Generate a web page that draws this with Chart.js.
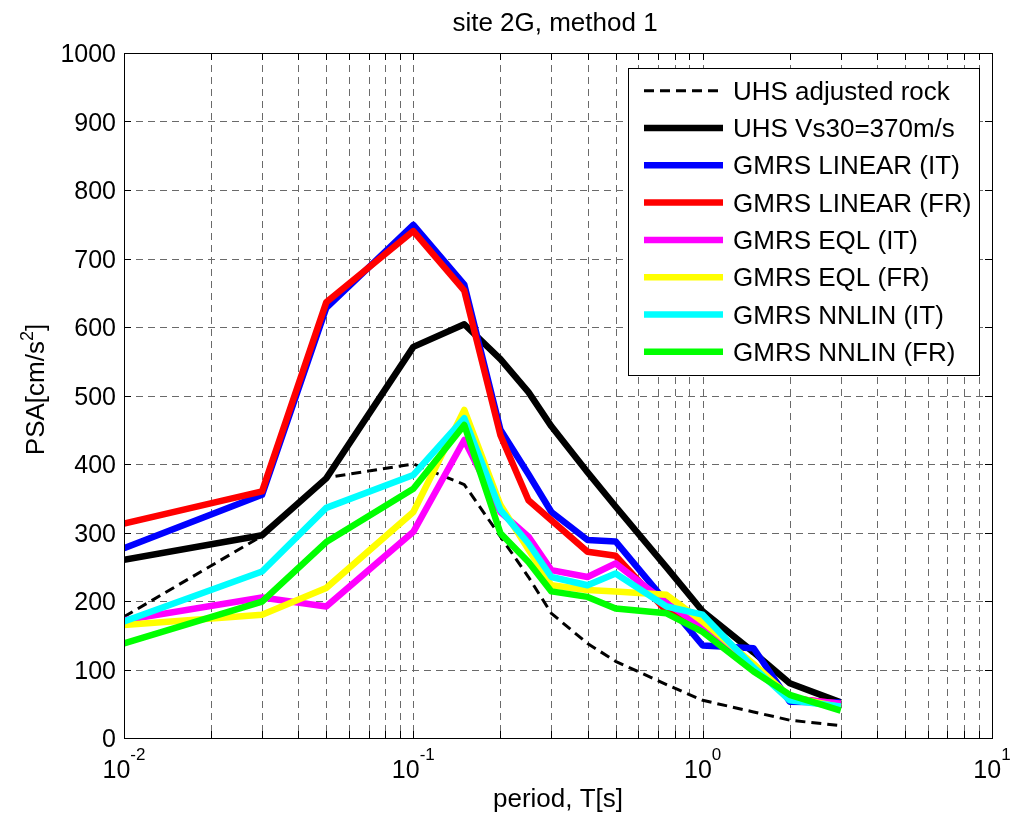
<!DOCTYPE html>
<html>
<head>
<meta charset="utf-8">
<title>site 2G, method 1</title>
<script src="https://cdn.jsdelivr.net/npm/chart.js@4/dist/chart.umd.min.js"></script>
<style>
  html, body { margin: 0; padding: 0; background: #ffffff; }
  canvas { display: block; }
</style>
</head>
<body>
<canvas id="psa" width="1012" height="823"></canvas>
<script>
// Spectral periods T [s]
const periods = [0.01, 0.03, 0.05, 0.1, 0.15, 0.2, 0.25, 0.3, 0.4, 0.5, 0.75, 1.0, 1.5, 2.0, 3.0];

// Pseudo-spectral accelerations [cm/s^2]
const uhsRock   = [177, 295, 380, 400, 370, 294, 235, 182, 138, 112, 78, 55, 38, 26, 18];
const uhsSite   = [260, 296, 379, 571, 604, 553, 505, 455, 388, 338, 249, 185, 125, 80, 52];
const linearIT  = [277, 355, 628, 749, 662, 450, 385, 330, 289, 287, 198, 135, 131, 53, 52];
const linearFR  = [313, 360, 636, 740, 653, 442, 347, 318, 272, 266, 185, 158, 105, 58, 50];
const eqlIT     = [172, 205, 192, 301, 435, 330, 294, 245, 235, 255, 197, 162, 107, 58, 50];
const eqlFR     = [165, 180, 219, 330, 479, 340, 275, 223, 216, 214, 209, 170, 108, 60, 45];
const nnlinIT   = [170, 243, 336, 384, 467, 333, 284, 235, 223, 240, 192, 180, 103, 55, 46];
const nnlinFR   = [138, 199, 286, 364, 457, 299, 257, 214, 206, 189, 182, 155, 97, 63, 40];

const seriesLabels = [
  'UHS adjusted rock',
  'UHS Vs30=370m/s',
  'GMRS LINEAR (IT)',
  'GMRS LINEAR (FR)',
  'GMRS EQL (IT)',
  'GMRS EQL (FR)',
  'GMRS NNLIN (IT)',
  'GMRS NNLIN (FR)'
];
const seriesValues = [uhsRock, uhsSite, linearIT, linearFR, eqlIT, eqlFR, nnlinIT, nnlinFR];
const seriesColors = ['#000000', '#000000', '#0000ff', '#ff0000', '#ff00ff', '#ffff00', '#00ffff', '#00ff00'];

// Axis ticks
const yTicks = [0, 100, 200, 300, 400, 500, 600, 700, 800, 900, 1000];
const xDecades = [-2, -1, 0, 1];

const FONT = "'Liberation Sans', Arial, Helvetica, sans-serif";

const datasets = seriesValues.map((vals, i) => ({
  label: seriesLabels[i],
  data: periods.map((t, k) => ({ x: t, y: vals[k] })),
  borderColor: seriesColors[i],
  backgroundColor: seriesColors[i],
  borderWidth: i === 0 ? 3 : 6.5,
  borderDash: i === 0 ? [10, 6] : [],
  borderJoinStyle: 'round',
  borderCapStyle: 'butt',
  pointRadius: 0,
  pointHoverRadius: 0,
  tension: 0,
  fill: false,
  clip: 0,
  order: seriesValues.length - i   // later series drawn on top
}));

// Log-axis grid positions: 1..9 x 10^e
function logGridValues() {
  const out = [];
  for (let e = xDecades[0]; e < xDecades[xDecades.length - 1]; e++) {
    for (let k = 1; k <= 9; k++) out.push(k * Math.pow(10, e));
  }
  out.push(Math.pow(10, xDecades[xDecades.length - 1]));
  return out;
}

const framePlugin = {
  id: 'matlabFrame',
  beforeDatasetsDraw(chart) {
    const { ctx, chartArea: a, scales: { x, y } } = chart;
    ctx.save();
    ctx.strokeStyle = '#6a6a6a';
    ctx.lineWidth = 1;
    ctx.setLineDash([7, 5]);
    logGridValues().forEach(v => {
      const px = Math.round(x.getPixelForValue(v)) + 0.5;
      if (px <= a.left + 1 || px >= a.right - 1) return;
      ctx.beginPath(); ctx.moveTo(px, a.top); ctx.lineTo(px, a.bottom); ctx.stroke();
    });
    yTicks.forEach(v => {
      const py = Math.round(y.getPixelForValue(v)) + 0.5;
      if (py <= a.top + 1 || py >= a.bottom - 1) return;
      ctx.beginPath(); ctx.moveTo(a.left, py); ctx.lineTo(a.right, py); ctx.stroke();
    });
    ctx.restore();
  },
  afterDatasetsDraw(chart) {
    const { ctx, chartArea: a, scales: { x, y } } = chart;
    ctx.save();
    ctx.setLineDash([]);
    ctx.strokeStyle = '#000000';
    ctx.lineWidth = 1;

    // Inward tick marks on all four sides
    const tl = 7;
    logGridValues().forEach(v => {
      const px = Math.round(x.getPixelForValue(v)) + 0.5;
      ctx.beginPath();
      ctx.moveTo(px, a.bottom); ctx.lineTo(px, a.bottom - tl);
      ctx.moveTo(px, a.top); ctx.lineTo(px, a.top + tl);
      ctx.stroke();
    });
    yTicks.forEach(v => {
      const py = Math.round(y.getPixelForValue(v)) + 0.5;
      ctx.beginPath();
      ctx.moveTo(a.left, py); ctx.lineTo(a.left + tl, py);
      ctx.moveTo(a.right, py); ctx.lineTo(a.right - tl, py);
      ctx.stroke();
    });

    // Axes box
    ctx.strokeRect(Math.round(a.left) + 0.5, Math.round(a.top) + 0.5,
                   Math.round(a.right - a.left), Math.round(a.bottom - a.top));

    ctx.fillStyle = '#000000';

    // y tick labels
    ctx.font = '25px ' + FONT;
    ctx.textAlign = 'right';
    ctx.textBaseline = 'alphabetic';
    yTicks.forEach(v => {
      const py = y.getPixelForValue(v);
      ctx.fillText(String(v), a.left - 8, py + 9);
    });

    // x tick labels 10^e
    xDecades.forEach(e => {
      const px = x.getPixelForValue(Math.pow(10, e));
      ctx.font = '25px ' + FONT;
      const base = '10';
      const wb = ctx.measureText(base).width;
      ctx.font = '17px ' + FONT;
      const sup = String(e);
      const ws = ctx.measureText(sup).width;
      const x0 = px - (wb + ws) / 2;
      ctx.textAlign = 'left';
      ctx.font = '25px ' + FONT;
      ctx.fillText(base, x0, 778);
      ctx.font = '17px ' + FONT;
      ctx.fillText(sup, x0 + wb, 760);
    });

    // Title
    ctx.font = '26px ' + FONT;
    ctx.textAlign = 'center';
    ctx.fillText('site 2G, method 1', (a.left + a.right) / 2 - 3, 31);

    // x axis title
    ctx.font = '26px ' + FONT;
    ctx.fillText('period, T[s]', (a.left + a.right) / 2, 807);

    // y axis title with superscript
    ctx.save();
    ctx.translate(44, (a.top + a.bottom) / 2 - 6);
    ctx.rotate(-Math.PI / 2);
    ctx.font = '26px ' + FONT;
    const p1 = 'PSA[cm/s', p3 = ']';
    const w1 = ctx.measureText(p1).width, w3 = ctx.measureText(p3).width;
    ctx.font = '18px ' + FONT;
    const w2 = ctx.measureText('2').width;
    let sx = -(w1 + w2 + w3) / 2;
    ctx.textAlign = 'left';
    ctx.font = '26px ' + FONT;
    ctx.fillText(p1, sx, 0);
    ctx.font = '18px ' + FONT;
    ctx.fillText('2', sx + w1, -11);
    ctx.font = '26px ' + FONT;
    ctx.fillText(p3, sx + w1 + w2, 0);
    ctx.restore();

    // Legend
    const lx = 628, ly = 68, lw = 351, lh = 307;
    ctx.fillStyle = '#ffffff';
    ctx.fillRect(lx, ly, lw, lh);
    ctx.strokeStyle = '#000000';
    ctx.lineWidth = 1;
    ctx.strokeRect(lx + 0.5, ly + 0.5, lw, lh);
    chart.data.datasets.forEach((ds, i) => {
      const ry = 90.7 + 37.3 * i;
      ctx.save();
      ctx.strokeStyle = ds.borderColor;
      ctx.lineWidth = ds.borderWidth;
      ctx.setLineDash(ds.borderDash);
      ctx.lineCap = 'butt';
      ctx.beginPath(); ctx.moveTo(644, ry); ctx.lineTo(723, ry); ctx.stroke();
      ctx.restore();
      ctx.fillStyle = '#000000';
      ctx.font = '26px ' + FONT;
      ctx.textAlign = 'left';
      ctx.fillText(ds.label, 733, ry + 9);
    });
    ctx.restore();
  }
};

new Chart(document.getElementById('psa'), {
  type: 'line',
  data: { datasets },
  options: {
    responsive: false,
    animation: false,
    devicePixelRatio: 1,
    events: [],
    layout: { padding: { left: 0, right: 20, top: 53, bottom: 0 } },
    plugins: { legend: { display: false }, title: { display: false }, tooltip: { enabled: false } },
    scales: {
      x: {
        type: 'logarithmic',
        min: 0.01,
        max: 10,
        grid: { display: false },
        border: { display: false },
        ticks: { display: false },
        afterFit(s) { s.height = 85; }
      },
      y: {
        type: 'linear',
        min: 0,
        max: 1000,
        grid: { display: false },
        border: { display: false },
        ticks: { display: false, stepSize: 100 },
        afterFit(s) { s.width = 124; }
      }
    }
  },
  plugins: [framePlugin]
});
</script>
</body>
</html>
